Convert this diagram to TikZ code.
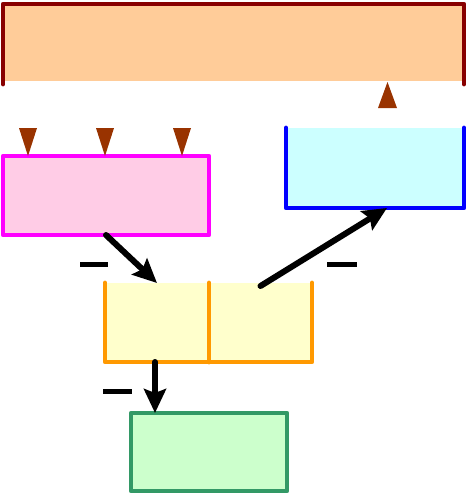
\documentclass[tikz,border=0pt]{standalone}
\usepackage{xcolor}
\usetikzlibrary{arrows.meta,positioning}
\definecolor{peach}{HTML}{FFCC99}
\definecolor{darkred}{HTML}{880000}
\definecolor{tipbrown}{HTML}{993300}
\definecolor{pinkfill}{HTML}{FFCCE6}
\definecolor{pinkline}{HTML}{FF00FF}
\definecolor{cyanfill}{HTML}{CCFFFF}
\definecolor{blueline}{HTML}{0000FF}
\definecolor{yellowfill}{HTML}{FFFFCC}
\definecolor{orangeline}{HTML}{FF9900}
\definecolor{greenfill}{HTML}{CCFFCC}
\definecolor{greenline}{HTML}{339966}

\begin{document}
\begin{tikzpicture}[
  x=1pt,y=-1pt,
  >={Stealth[length=24pt,width=22pt,inset=4pt]},
  box/.style={inner sep=0pt,outer sep=0pt,anchor=north west},
  side/.style={line width=4.8pt,line cap=round,line join=round},
  flow/.style={->,line width=6pt,line cap=round},
  minus/.style={line width=5pt},
  tip/.style={fill=tipbrown}
]
\useasboundingbox (0,0) rectangle (467,493);

% ---- boxes ----
\node[box,fill=peach,minimum width=461pt,minimum height=77pt] (store) at (3,4) {};
\node[box,fill=pinkfill,minimum width=206pt,minimum height=79pt] (pink) at (3,156) {};
\node[box,fill=cyanfill,minimum width=178pt,minimum height=80pt] (cyanbox) at (286,128) {};
\node[box,fill=yellowfill,minimum width=104pt,minimum height=79pt] (lcell) at (105,283) {};
\node[box,fill=yellowfill,minimum width=103pt,minimum height=79pt] (rcell) at (lcell.north east) {};
\node[box,fill=greenfill,minimum width=156pt,minimum height=78pt] (green) at (131,413) {};

% ---- box sides ----
\draw[side,darkred] ([yshift=-3pt]store.south west) |- (store.north east) -- ([yshift=-3pt]store.south east);
\draw[side,pinkline] (pink.south west) rectangle (pink.north east);
\draw[side,blueline] (cyanbox.north west) |- (cyanbox.south east) -- (cyanbox.north east);
\draw[side,orangeline] (lcell.north west) |- (rcell.south east) -- (rcell.north east);
\draw[side,orangeline] (lcell.north east) -- (lcell.south east);
\draw[side,greenline] (green.south west) rectangle (green.north east);

% ---- tips ----
\foreach \x in {28,105,182}
  \fill[tip] (\x-9,128) -- (\x+9,128) -- (\x,156) -- cycle;
\fill[tip] (387.5,82) -- (397,108) -- (378,108) -- cycle;

% ---- flows ----
\coordinate (drop) at (155,362);
\draw[flow] (pink.south) -- (lcell.north);
\draw[flow] ([yshift=-3pt]rcell.north) -- ([xshift=12pt]cyanbox.south);
\draw[flow] (drop) -- (drop |- green.north);

% ---- minus marks ----
\draw[minus] (80,264) -- (108,264);
\draw[minus] (327,264) -- (357,264);
\draw[minus] (103,391) -- (132,391);

\end{tikzpicture}
\end{document}
